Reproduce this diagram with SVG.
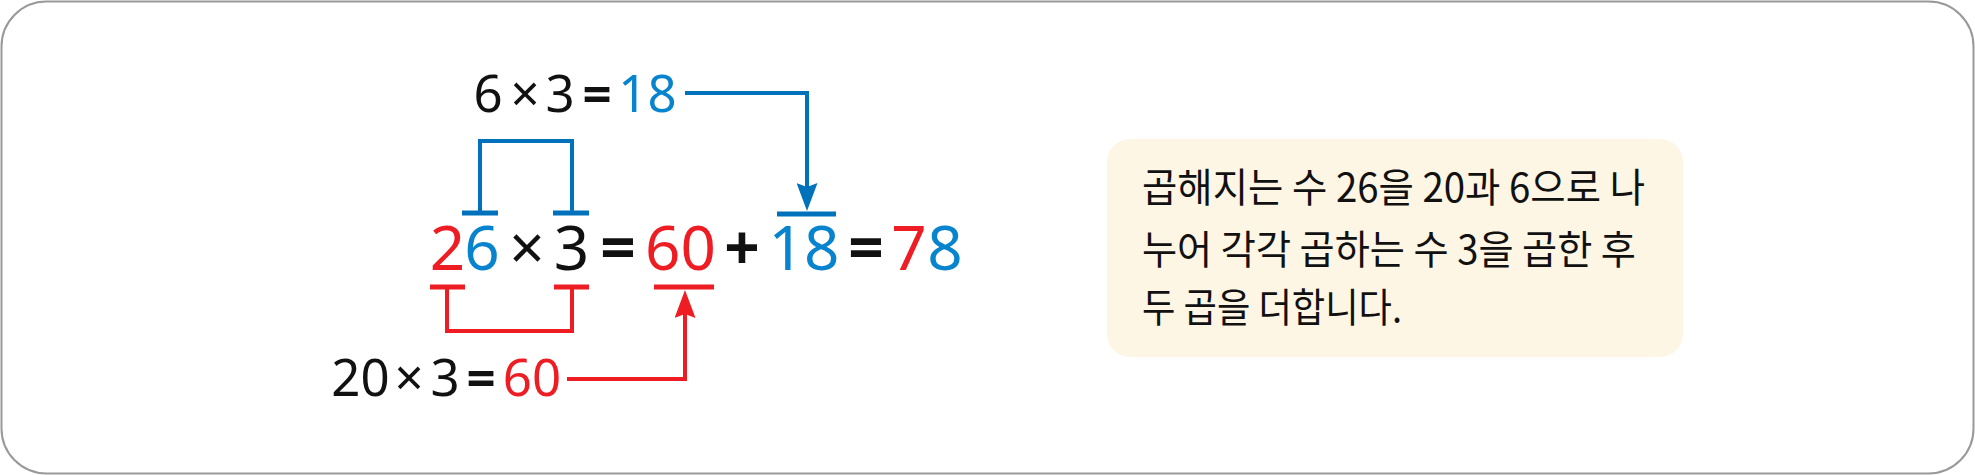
<svg xmlns="http://www.w3.org/2000/svg" width="1975" height="475" viewBox="0 0 1975 475">
<style>
.num{font-family:"Noto Sans","Open Sans",sans-serif;text-anchor:middle}
.big{font-size:62px}
.mid{font-size:51px}
.op{font-weight:700}
.k{fill:#111}
.r{fill:#EE1D23}
.b{fill:#0884CE}
.bl{fill:none;stroke:#0072BC;stroke-width:4}
.rl{fill:none;stroke:#EE1D23;stroke-width:4}
.tb{fill:none;stroke:#0072BC;stroke-width:5}
.tr{fill:none;stroke:#EE1D23;stroke-width:5}
.kr{font-family:"Noto Sans CJK KR","Noto Sans",sans-serif;font-size:40px;fill:#111}
</style>
<defs>
<marker id="ab" markerUnits="userSpaceOnUse" markerWidth="28" markerHeight="21" refX="12" refY="10.5" orient="auto" viewBox="0 0 28 21">
<path d="M0,0 L28,10.5 L0,21 L4,10.5 z" fill="#0072BC"/>
</marker>
<marker id="ar" markerUnits="userSpaceOnUse" markerWidth="28" markerHeight="21" refX="12" refY="10.5" orient="auto" viewBox="0 0 28 21">
<path d="M0,0 L28,10.5 L0,21 L4,10.5 z" fill="#EE1D23"/>
</marker>
</defs>
<rect id="frame" x="1.5" y="1.5" width="1972" height="472" rx="45" fill="#fff" stroke="#999" stroke-width="2"/>

<g id="top-eq" class="num mid">
<text x="488" y="112" class="k">6</text>
<text x="525" y="112" class="k">×</text>
<text x="560" y="112" class="k">3</text>
<text x="597" y="112" class="k op">=</text>
<text x="647.5" y="112" class="b">18</text>
</g>

<g id="main-eq" class="num big">
<text x="447.5" y="270" class="r">2</text>
<text x="482" y="270" class="b">6</text>
<text x="527" y="270" class="k">×</text>
<text x="571.5" y="270" class="k">3</text>
<text x="618" y="270" class="k op">=</text>
<text x="680.5" y="270" class="r">60</text>
<text x="742" y="270" class="k op">+</text>
<text x="804" y="270" class="b">18</text>
<text x="866" y="270" class="k op">=</text>
<text x="909" y="270" class="r">7</text>
<text x="945" y="270" class="b">8</text>
</g>

<g id="bottom-eq" class="num mid">
<text x="360.5" y="396" class="k">20</text>
<text x="409" y="396" class="k">×</text>
<text x="445" y="396" class="k">3</text>
<text x="481" y="396" class="k op">=</text>
<text x="532" y="396" class="r">60</text>
</g>

<g id="connectors">
<path class="bl" d="M480,213 V141 H572 V213"/>
<path class="tb" d="M462,213 H498 M553,213 H589 M777,214 H836"/>
<path class="bl" d="M685,93 H807 V195" marker-end="url(#ab)"/>
<path class="rl" d="M447,287 V331 H572 V287"/>
<path class="tr" d="M430,287 H465 M554,287 H589 M654,287 H714"/>
<path class="rl" d="M567,379 H685 V306" marker-end="url(#ar)"/>
</g>

<g id="note">
<rect x="1107" y="139" width="576" height="218" rx="23" fill="#FEF6E4"/>
<text class="kr" x="1142" y="202" textLength="503" lengthAdjust="spacingAndGlyphs">곱해지는 수 26을 20과 6으로 나</text>
<text class="kr" x="1142" y="264" textLength="494" lengthAdjust="spacingAndGlyphs">누어 각각 곱하는 수 3을 곱한 후</text>
<text class="kr" x="1142" y="322" textLength="260" lengthAdjust="spacingAndGlyphs">두 곱을 더합니다.</text>
</g>
</svg>
